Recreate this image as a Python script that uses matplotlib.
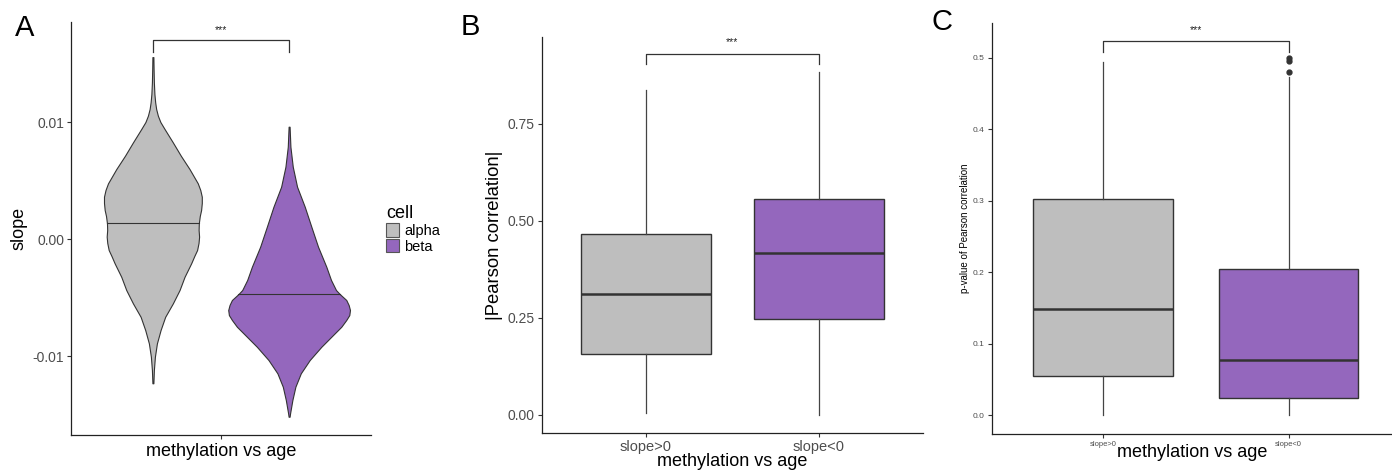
import numpy as np
import matplotlib
matplotlib.use('Agg')
import matplotlib.pyplot as plt
from matplotlib.patches import Patch

plt.rcParams['font.family'] = ['Liberation Sans', 'DejaVu Sans']

# ---- data ----
cells = ['alpha', 'beta']
cell_colors = ['#BEBEBE', '#9467BD']

# panel A: violin profiles (slope value, relative density)
alpha_slope = [0.01555, 0.01455, 0.01339, 0.01239, 0.01168, 0.01111, 0.01054, 0.01000,
               0.00940, 0.00826, 0.00712, 0.00598, 0.00476, 0.00419, 0.00362, 0.00308,
               0.00248, 0.00197, 0.00134, 0.00077, 0.00020, -0.00034, -0.00094, -0.00145,
               -0.00208, -0.00323, -0.00436, -0.00550, -0.00665, -0.00778, -0.00892,
               -0.01006, -0.01120, -0.01233]
alpha_dens = [0.010, 0.014, 0.020, 0.031, 0.047, 0.067, 0.102, 0.153,
              0.239, 0.408, 0.571, 0.749, 0.918, 0.969, 1.000, 1.000,
              0.986, 0.959, 0.939, 0.935, 0.945, 0.933, 0.904, 0.847,
              0.782, 0.647, 0.545, 0.408, 0.251, 0.157, 0.082,
              0.041, 0.020, 0.010]
alpha_median = 0.00139

beta_slope = [0.00960, 0.00789, 0.00618, 0.00447, 0.00276, 0.00105, -0.00066, -0.00237,
              -0.00350, -0.00436, -0.00470, -0.00521, -0.00564, -0.00607, -0.00650, -0.00692,
              -0.00750, -0.00806, -0.00921, -0.01034, -0.01148, -0.01262, -0.01376, -0.01490,
              -0.01519]
beta_dens = [0.010, 0.027, 0.075, 0.163, 0.320, 0.455, 0.592, 0.761,
             0.857, 0.959, 1.035, 1.169, 1.218, 1.245, 1.231, 1.169,
             1.067, 0.933, 0.659, 0.422, 0.239, 0.129, 0.067, 0.020,
             0.010]
beta_median = -0.00473

# panels B and C: box statistics per group
groups = ['slope>0', 'slope<0']
corr_q1 = [0.157, 0.247]
corr_med = [0.313, 0.417]
corr_q3 = [0.466, 0.556]
corr_lo = [0.004, 0.000]
corr_hi = [0.838, 0.885]

pval_q1 = [0.054, 0.024]
pval_med = [0.148, 0.077]
pval_q3 = [0.302, 0.205]
pval_lo = [0.000, 0.000]
pval_hi = [0.495, 0.474]
pval_out = [[], [0.4996, 0.4962, 0.4808]]

W, H = 1392, 471
fig = plt.figure(figsize=(W / 100, H / 100), dpi=100)


def rect(l, t, r, b):
    return [l / W, 1 - b / H, (r - l) / W, (b - t) / H]


def style(ax, tick_size):
    for s in ['top', 'right']:
        ax.spines[s].set_visible(False)
    for s in ['left', 'bottom']:
        ax.spines[s].set_linewidth(0.9)
        ax.spines[s].set_color('#222222')
    ax.tick_params(length=3, width=0.8, color='#333333', labelcolor='#4D4D4D',
                   labelsize=tick_size, pad=2)


def bracket(ax, x1, x2, ylo, yhi, ytext):
    ax.plot([x1, x1, x2, x2], [ylo, yhi, yhi, ylo], color='#333333', lw=0.9, clip_on=False)
    ax.text((x1 + x2) / 2, ytext, '***', ha='center', va='center', fontsize=7.5, color='#222222')


# ---- panel A ----
axA = fig.add_axes(rect(71, 22, 371, 435))
style(axA, 10)
pos = [0.273, 0.727]
half = 0.163
for p, ys, ds, med, col in zip(pos, [alpha_slope, beta_slope], [alpha_dens, beta_dens],
                               [alpha_median, beta_median], cell_colors):
    ys = np.array(ys)
    ds = np.array(ds) * half
    axA.fill_betweenx(ys, p - ds, p + ds, facecolor=col, edgecolor='#333333', lw=0.8)
    w = np.interp(med, ys[::-1], ds[::-1])
    axA.plot([p - w, p + w], [med, med], color='#333333', lw=0.8)
axA.set_xlim(0, 1)
axA.set_ylim(-0.01675, 0.01855)
axA.set_xticks([0.5])
axA.set_xticklabels([''])
axA.set_yticks([-0.01, 0.0, 0.01])
axA.set_yticklabels(['-0.01', '0.00', '0.01'])
axA.set_xlabel('methylation vs age', fontsize=13, labelpad=1)
axA.set_ylabel('slope', fontsize=13, labelpad=4)
bracket(axA, pos[0], pos[1], 0.0160, 0.0170, 0.01785)
handles = [Patch(facecolor=c, edgecolor='#555555', lw=0.8) for c in cell_colors]
leg = axA.legend(handles, cells, title='cell', loc='upper left',
                 bbox_to_anchor=(386 / W, 1 - 205 / H), bbox_transform=fig.transFigure,
                 frameon=False, fontsize=10.5, title_fontsize=13, handlelength=0.9,
                 handleheight=1.0, handletextpad=0.35, labelspacing=0.1, borderpad=0,
                 borderaxespad=0, alignment='left')

# ---- boxplot panels ----
def boxes(ax, q1, med, q3, lo, hi, outs):
    stats = []
    for i in range(2):
        stats.append(dict(q1=q1[i], med=med[i], q3=q3[i], whislo=lo[i], whishi=hi[i],
                          fliers=outs[i] if outs else []))
    bp = ax.bxp(stats, positions=[1, 2], widths=0.75, patch_artist=True, showcaps=False,
                boxprops=dict(edgecolor='#333333', lw=1.0),
                medianprops=dict(color='#333333', lw=1.8),
                whiskerprops=dict(color='#444444', lw=0.9),
                flierprops=dict(marker='o', markersize=3.5, markerfacecolor='#333333',
                                markeredgecolor='#333333'))
    for patch, c in zip(bp['boxes'], cell_colors):
        patch.set_facecolor(c)


axB = fig.add_axes(rect(541.7, 37, 923, 433))
style(axB, 10)
boxes(axB, corr_q1, corr_med, corr_q3, corr_lo, corr_hi, None)
axB.set_xlim(0.4, 2.6)
axB.set_ylim(-0.0464, 0.974)
axB.set_yticks([0, 0.25, 0.5, 0.75])
axB.set_yticklabels(['0.00', '0.25', '0.50', '0.75'])
axB.set_xticks([1, 2])
axB.set_xticklabels(groups, fontsize=10.5)
axB.set_xlabel('methylation vs age', fontsize=13, labelpad=-1)
axB.set_ylabel('|Pearson correlation|', fontsize=13.3, labelpad=3)
bracket(axB, 1, 2, 0.904, 0.9296, 0.960)

axC = fig.add_axes(rect(991.7, 22.7, 1392, 434))
style(axC, 6)
boxes(axC, pval_q1, pval_med, pval_q3, pval_lo, pval_hi, pval_out)
axC.set_xlim(0.4, 2.557)
axC.set_ylim(-0.0266, 0.5494)
axC.set_yticks([0, 0.1, 0.2, 0.3, 0.4, 0.5])
axC.set_xticks([1, 2])
axC.set_xticklabels(groups, fontsize=5.5)
axC.set_xlabel('methylation vs age', fontsize=13, labelpad=-3)
axC.set_ylabel('p-value of Pearson correlation', fontsize=7, labelpad=2)
bracket(axC, 1, 2, 0.5088, 0.5243, 0.5390)

# panel letters
for lab, x, y in [('A', 25, 28), ('B', 470, 27), ('C', 942, 22)]:
    fig.text(x / W, 1 - y / H, lab, fontsize=21, ha='center', va='center')

fig.savefig('out.png', dpi=100)
